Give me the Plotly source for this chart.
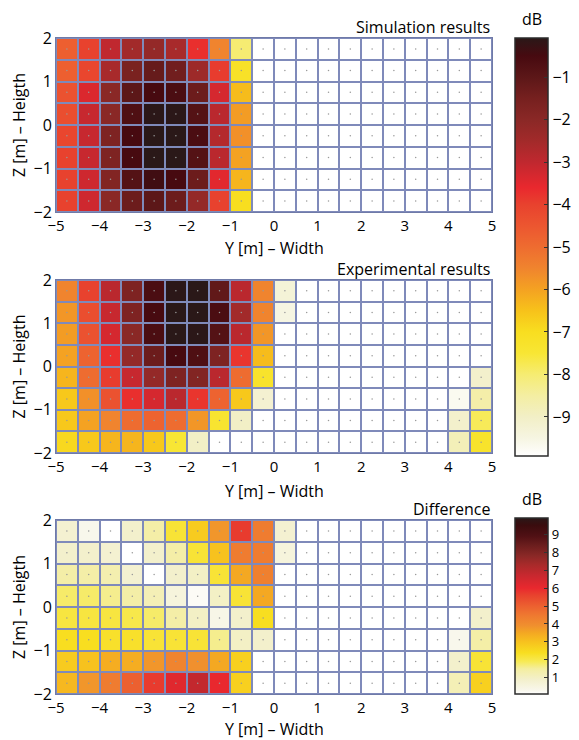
import plotly.graph_objects as go

# ---------------- data ----------------
y_centers = [-4.75, -4.25, -3.75, -3.25, -2.75, -2.25, -1.75, -1.25, -0.75, -0.25,
             0.25, 0.75, 1.25, 1.75, 2.25, 2.75, 3.25, 3.75, 4.25, 4.75]
z_centers = [1.75, 1.25, 0.75, 0.25, -0.25, -0.75, -1.25, -1.75]

x_tick_vals = [-5, -4, -3, -2, -1, 0, 1, 2, 3, 4, 5]
x_tick_text = ["\u22125", "\u22124", "\u22123", "\u22122", "\u22121", "0", "1", "2", "3", "4", "5"]
z_tick_vals = [-2, -1, 0, 1, 2]
z_tick_text = ["\u22122", "\u22121", "0", "1", "2"]
cbar_top_vals = [-1, -2, -3, -4, -5, -6, -7, -8, -9]
cbar_top_text = ["\u22121", "\u22122", "\u22123", "\u22124", "\u22125", "\u22126", "\u22127", "\u22128", "\u22129"]
cbar_bot_vals = [1, 2, 3, 4, 5, 6, 7, 8, 9]
cbar_bot_text = ["1", "2", "3", "4", "5", "6", "7", "8", "9"]

W = -10.0  # floor level (white)

simulation = [
    [-4.7, -4.0, -3.0, -2.5, -2.2, -2.6, -3.7, -5.5, -8.0] + [W] * 11,
    [-4.7, -4.1, -2.6, -1.6, -1.2, -1.4, -2.4, -3.9, -7.2] + [W] * 11,
    [-4.4, -3.4, -2.0, -1.0, -0.5, -0.6, -1.3, -3.3, -6.4] + [W] * 11,
    [-4.3, -3.1, -2.0, -0.7, -0.1, -0.1, -0.8, -2.9, -5.9] + [W] * 11,
    [-4.1, -3.1, -1.7, -0.5, 0.0, 0.0, -0.6, -2.8, -5.7] + [W] * 11,
    [-4.0, -3.1, -1.7, -0.5, 0.0, 0.0, -0.8, -2.9, -6.0] + [W] * 11,
    [-4.0, -3.2, -1.8, -0.8, -0.4, -0.5, -1.3, -3.5, -6.3] + [W] * 11,
    [-4.0, -3.2, -2.0, -1.3, -1.0, -1.3, -2.2, -4.0, -7.0] + [W] * 11,
]

experimental = [
    [-5.5, -4.0, -2.9, -1.7, -0.6, -0.1, -0.05, -1.1, -2.9, -5.5, -9.3] + [W] * 9,
    [-5.8, -4.3, -3.1, -1.7, -0.5, 0.0, 0.0, -0.6, -2.5, -5.5, -9.5] + [W] * 9,
    [-5.9, -4.4, -3.3, -2.0, -0.6, 0.0, -0.1, -0.8, -2.9, -5.8] + [W] * 10,
    [-6.0, -4.8, -3.7, -2.2, -1.3, -0.5, -0.7, -1.7, -3.8, -6.4] + [W] * 10,
    [-6.3, -5.0, -3.9, -3.1, -2.2, -1.7, -1.8, -2.9, -5.0, -7.3] + [W] * 9 + [-9.1],
    [-6.6, -5.7, -4.4, -3.7, -3.3, -2.9, -3.8, -4.8, -6.6, -9.2] + [W] * 8 + [-9.7, -8.6],
    [-6.6, -6.0, -5.5, -5.0, -4.8, -5.0, -5.8, -7.4, -9.0] + [W] * 9 + [-9.1, -7.8],
    [-6.9, -6.6, -6.3, -6.3, -6.6, -7.5, -9.0] + [W] * 11 + [-8.8, -7.3],
]

difference = [
    [0.8, 0.3, 0.0, 0.9, 1.4, 2.2, 2.8, 3.8, 5.7, 4.4, 0.8] + [0.0] * 9,
    [0.9, 0.9, 0.8, 0.0, 0.9, 1.4, 2.2, 3.0, 4.4, 4.4, 0.6] + [0.0] * 9,
    [1.4, 1.4, 1.3, 0.8, 0.0, 0.9, 1.0, 2.2, 3.5, 4.3] + [0.0] * 10,
    [1.8, 1.8, 1.6, 1.4, 1.2, 0.6, 0.2, 1.0, 2.2, 3.5] + [0.0] * 10,
    [2.1, 2.1, 2.1, 2.0, 1.8, 1.4, 1.0, 0.4, 0.9, 2.4] + [0.0] * 9 + [0.9],
    [2.4, 2.4, 2.3, 2.3, 2.2, 2.2, 2.2, 1.6, 1.0, 0.9] + [0.0] * 8 + [0.3, 1.4],
    [2.8, 3.0, 3.4, 3.4, 3.8, 4.2, 3.9, 3.5, 2.7] + [0.0] * 9 + [0.9, 2.2],
    [3.2, 3.8, 4.4, 5.0, 5.7, 6.2, 6.8, 6.0, 2.7] + [0.0] * 9 + [1.2, 2.7],
]

titles = ["Simulation results", "Experimental results", "Difference"]
x_title = "Y [m] \u2013 Width"
z_title = "Z [m] \u2013 Heigth"
cbar_title = "dB"

# ---------------- styling ----------------
# page body has an 8px default margin; lay out in window pixels and offset
OFF = 8
WIN_W, WIN_H = 579, 740
FIG_W, FIG_H = WIN_W - OFF, WIN_H - OFF
FONT = "Open Sans"
FS = 16
FS_TICK = 15
FS_CB2 = 13

top_lo, top_hi = -9.92, -0.08
bot_lo, bot_hi = 0.1, 9.9

top_stops = [(-10, "#ffffff"), (-9.5, "#f6f5e2"), (-9.0, "#f2efc6"), (-8.5, "#f4eea2"),
             (-8.0, "#f6ec72"), (-7.5, "#f8e634"), (-7.0, "#f8de20"), (-6.5, "#f7c21a"),
             (-6.0, "#f4a222"), (-5.5, "#f0842e"), (-5.0, "#ee6c30"), (-4.5, "#ec5630"),
             (-4.0, "#e8422e"), (-3.6, "#e9282e"), (-3.0, "#c0282f"), (-2.5, "#a22a2a"),
             (-2.0, "#8a2826"), (-1.5, "#76201f"), (-1.0, "#5c1718"), (-0.5, "#470a10"),
             (-0.08, "#2a1818")]
bot_stops = [(0.0, "#ffffff"), (0.3, "#f8f7ec"), (0.9, "#f3f0cc"), (1.5, "#f4eea0"),
             (1.9, "#f7ea56"), (2.4, "#f8de20"), (3.0, "#f7c21e"), (3.5, "#f4a822"),
             (3.9, "#f0902e"), (4.5, "#ef7830"), (5.0, "#ec6030"), (5.6, "#e8422e"),
             (6.0, "#e9282e"), (6.7, "#c8282f"), (7.3, "#a82a2a"), (7.8, "#8a2826"),
             (8.4, "#6a1d1d"), (8.9, "#501014"), (9.5, "#3a0c0e"), (9.9, "#2a1818")]


def make_scale(stops, lo, hi):
    out = []
    for v, c in stops:
        n = (v - lo) / (hi - lo)
        n = min(max(n, 0.0), 1.0)
        if out and n <= out[-1][0]:
            continue
        out.append([n, c])
    out[0][0] = 0.0
    out[-1][0] = 1.0
    return out


top_scale = make_scale(top_stops, top_lo, top_hi)
bot_scale = make_scale(bot_stops, bot_lo, bot_hi)

# plot-area boxes in window pixels (left, right) and (top, bottom)
PX_L, PX_R = 56, 492
rows_px = [(38, 212), (280, 453), (520, 694)]
xtitle_px = [248, 491, 729]


def px_x(p):
    return (p - OFF) / FIG_W


def px_y(p):
    return 1 - (p - OFF) / FIG_H


GRID_BG = "#7f8aba"

fig = go.Figure()

datasets = [simulation, experimental, difference]
scales = [(top_scale, top_lo, top_hi), (top_scale, top_lo, top_hi), (bot_scale, bot_lo, bot_hi)]

for i, (z, (cs, lo, hi)) in enumerate(zip(datasets, scales)):
    ax = "" if i == 0 else str(i + 1)
    hm = dict(
        z=z, x=y_centers, y=z_centers, colorscale=cs, zmin=lo, zmax=hi,
        xgap=2, ygap=2, xaxis="x" + ax, yaxis="y" + ax, hoverinfo="skip",
        showscale=(i != 1),
    )
    if i == 0:
        top, bottom = 38, 456
    else:
        top, bottom = 518, 694
    if i != 1:
        hm["colorbar"] = dict(
            x=px_x(515), xanchor="left", xpad=0, ypad=0,
            y=px_y((top + bottom) / 2), yanchor="middle",
            len=bottom - top, lenmode="pixels",
            thickness=33, thicknessmode="pixels",
            outlinecolor="#2b2b2b", outlinewidth=1.5,
            ticks="inside", ticklen=4, tickcolor="#333333", tickwidth=1,
            tickvals=cbar_top_vals if i == 0 else cbar_bot_vals,
            ticktext=cbar_top_text if i == 0 else cbar_bot_text,
            tickfont=dict(family=FONT, size=FS if i == 0 else FS_CB2, color="#000"),
        )
    fig.add_trace(go.Heatmap(**hm))
    # measurement points at cell centres
    xs, ys = [], []
    for zc in z_centers:
        for yc in y_centers:
            xs.append(yc)
            ys.append(zc)
    fig.add_trace(go.Scatter(
        x=xs, y=ys, mode="markers", xaxis="x" + ax, yaxis="y" + ax,
        marker=dict(size=1.5, color="#999999"), hoverinfo="skip", showlegend=False,
    ))

layout = dict(
    width=FIG_W, height=FIG_H, autosize=False,
    margin=dict(l=0, r=0, t=0, b=0),
    paper_bgcolor="white", plot_bgcolor=GRID_BG,
    font=dict(family=FONT, size=FS, color="#000"),
    showlegend=False,
    annotations=[],
)

for i, (t, b) in enumerate(rows_px):
    ax = "" if i == 0 else str(i + 1)
    layout["xaxis" + ax] = dict(
        domain=[px_x(PX_L), px_x(PX_R)], range=[-5, 5], anchor="y" + ax,
        tickvals=x_tick_vals, ticktext=x_tick_text, ticks="", showgrid=False,
        zeroline=False, showline=True, linecolor="#6f7aa8", linewidth=1, mirror=True,
        tickfont=dict(size=FS_TICK), automargin=False, fixedrange=True,
    )
    layout["yaxis" + ax] = dict(
        domain=[px_y(b), px_y(t)], range=[-2, 2], anchor="x" + ax,
        tickvals=z_tick_vals, ticktext=z_tick_text, ticks="", showgrid=False,
        zeroline=False, showline=True, linecolor="#6f7aa8", linewidth=1, mirror=True,
        title=dict(text=z_title, standoff=8, font=dict(size=FS)),
        tickfont=dict(size=FS), automargin=False, fixedrange=True,
    )
    # subplot title (top-right)
    layout["annotations"].append(dict(
        text=titles[i], xref="paper", yref="paper", x=px_x(PX_R), y=px_y(t),
        xanchor="right", yanchor="bottom", showarrow=False,
        font=dict(family=FONT, size=FS, color="#000"), yshift=-2,
    ))
    # x-axis title
    layout["annotations"].append(dict(
        text=x_title, xref="paper", yref="paper", x=px_x((PX_L + PX_R) / 2),
        y=px_y(xtitle_px[i]), xanchor="center", yanchor="middle", showarrow=False,
        borderpad=0, font=dict(family=FONT, size=FS, color="#000"),
    ))

layout["annotations"].append(dict(
    text=cbar_title, xref="paper", yref="paper", x=px_x(531.5), y=px_y(19),
    xanchor="center", yanchor="middle", showarrow=False, font=dict(size=FS)))
layout["annotations"].append(dict(
    text=cbar_title, xref="paper", yref="paper", x=px_x(531.5), y=px_y(499),
    xanchor="center", yanchor="middle", showarrow=False, font=dict(size=FS)))

fig.update_layout(**layout)
fig.write_html("out.html")
